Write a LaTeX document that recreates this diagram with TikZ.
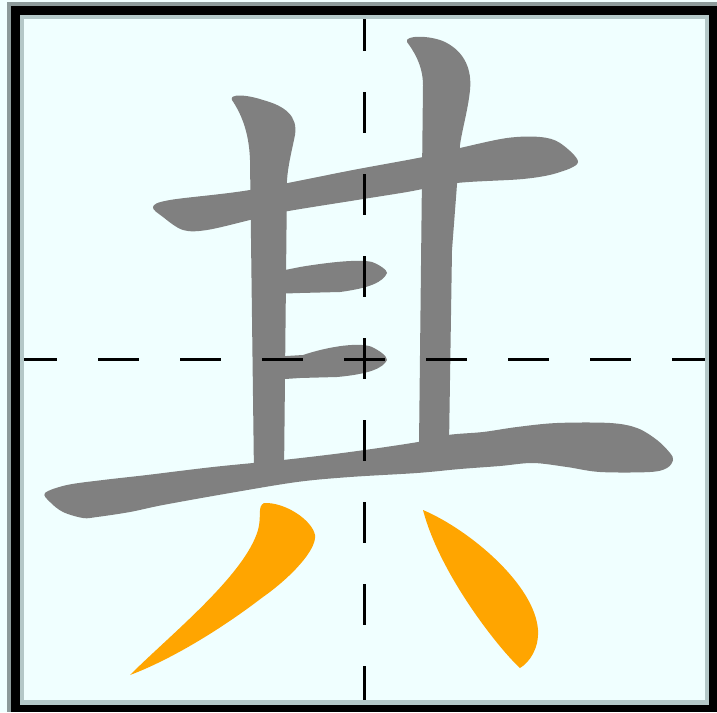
\documentclass[tikz,border=0pt]{standalone}
\usepackage{tikz}

\definecolor{paper}{HTML}{F0FFFF}
\definecolor{rimdark}{HTML}{8C9A9A}
\definecolor{rimlight}{HTML}{B4C8C8}
\definecolor{inkgray}{HTML}{808080}
\definecolor{inkorange}{HTML}{FFA500}

\begin{document}
\begin{tikzpicture}[x=1pt, y=-1pt,
    oldstroke/.style={fill=inkgray},
    newstroke/.style={fill=inkorange},
    guide/.style={black, line width=3pt, dash pattern=on 41pt off 41pt}]
    \useasboundingbox (0,0) rectangle (717,712);

    % Draw paper and frame
    \fill[paper] (0,0) rectangle (717,712);
    \fill[rimdark] (7,2) rectangle (717,712);
    \fill[black] (11,6) rectangle (717,712);
    \fill[rimlight] (20,15) rectangle (709,705);
    \fill[paper] (24,19) rectangle (705,700);

    % Strokes already written
    \fill[oldstroke] plot[smooth cycle, tension=0.55] coordinates {(153,207) (170,200) (250,190) (353,170) (423,157) (460,148) (507,138) (540,137) (560,143) (578,162) (557,173) (523,179) (457,183) (407,192) (357,200) (283,212) (250,220) (207,230) (183,230) (163,217)};
    \fill[oldstroke] (254,475) -- (250,160) .. controls (249,130) and (240,112) .. (232,100)
        .. controls (229,94) and (245,94) .. (263,100) .. controls (285,106) and (298,116) .. (295,135)
        .. controls (292,150) and (288,165) .. (287,180) -- (284,475) -- cycle;
    \fill[oldstroke] (419,445) -- (423,85) .. controls (423,65) and (413,50) .. (407,42)
        .. controls (404,35) and (430,35) .. (445,42) .. controls (465,52) and (472,70) .. (470,90)
        .. controls (468,110) and (462,130) .. (460,145) -- (452,250) -- (449,445) -- cycle;
    \fill[oldstroke] (270,294) -- (270,273) -- (300,267) .. controls (330,262) and (360,259) .. (372,262)
        .. controls (380,265) and (387,270) .. (387,273) .. controls (383,282) and (370,288) .. (340,292)
        -- (300,293) -- cycle;
    \fill[oldstroke] (270,380) -- (270,357) -- (303,355) .. controls (330,346) and (360,342) .. (372,347)
        .. controls (380,351) and (387,356) .. (387,360) .. controls (383,368) and (370,374) .. (337,377)
        -- (300,378) -- cycle;
    \fill[oldstroke] plot[smooth cycle, tension=0.55] coordinates {(45,493) (67,485) (103,480) (147,475) (213,467) (283,460) (350,452) (418,442) (448,435) (483,432) (517,427) (557,423) (610,423) (637,428) (657,440) (670,453) (673,460) (667,468) (650,472) (600,472) (567,467) (533,463) (500,466) (460,469) (417,473) (350,477) (297,482) (230,493) (163,505) (130,512) (97,517) (83,518) (63,512) (50,502)};

    % Strokes of this step
    \fill[newstroke] (130,675) .. controls (170,635) and (245,575) .. (258,530)
        .. controls (262,515) and (257,507) .. (264,503) .. controls (285,502) and (312,520) .. (315,535)
        .. controls (317,550) and (290,578) .. (263,597) .. controls (220,630) and (170,660) .. (130,675) -- cycle;
    \fill[newstroke] (423,510) .. controls (470,530) and (535,585) .. (538,630)
        .. controls (539,648) and (530,662) .. (520,668) .. controls (500,650) and (440,575) .. (423,510) -- cycle;

    % Draw guide lines
    \coordinate (west) at (24,359);
    \coordinate (east) at (705,359);
    \coordinate (north) at (364,19);
    \coordinate (south) at (364,700);
    \draw[guide, dash phase=8pt] (west) -- (east);
    \draw[guide, dash phase=9pt] (north) -- (south);
\end{tikzpicture}
\end{document}
